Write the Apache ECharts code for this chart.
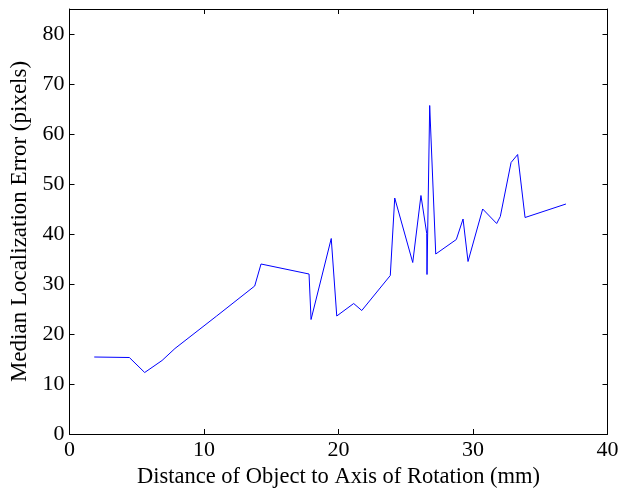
<!DOCTYPE html>
<html>
<head>
<meta charset="utf-8">
<script src="https://cdn.jsdelivr.net/npm/echarts@6/dist/echarts.min.js"></script>
<style>html,body{margin:0;padding:0;background:#fff}#c{width:620px;height:489px}</style>
</head>
<body>
<div id="c"></div>
<script>
const distances = [1.84, 4.45, 5.59, 6.88, 7.84, 10.94, 13.77, 14.24, 17.81, 17.96, 19.46, 19.87, 21.13, 21.73, 23.85, 24.18, 25.52, 26.13, 26.56, 26.58, 26.78, 27.23, 28.76, 29.26, 29.63, 30.72, 31.76, 32.03, 32.83, 33.32, 33.87, 36.91];
const errors = [15.4, 15.3, 12.3, 14.7, 17.1, 23.6, 29.6, 34.0, 32.0, 22.9, 39.1, 23.6, 26.1, 24.7, 31.7, 47.2, 34.3, 47.7, 40.1, 31.9, 65.7, 36.0, 38.9, 43.0, 34.5, 45.0, 42.1, 43.5, 54.3, 55.9, 43.3, 46.0];
const xTitle = 'Distance of Object to Axis of Rotation (mm)';
const yTitle = 'Median Localization Error (pixels)';

const font = 'Liberation Serif';
const chart = echarts.init(document.getElementById('c'), null, {renderer: 'canvas'});
const lineStyle = {color: '#000', width: 1};
chart.setOption({
  animation: false,
  grid: {left: 69.5, right: 12.5, top: 9, bottom: 55, containLabel: false, outerBoundsMode: 'none'},
  xAxis: [{
    type: 'value', min: 0, max: 40, interval: 10, position: 'bottom',
    name: xTitle, nameLocation: 'middle', nameGap: 30,
    nameTextStyle: {fontFamily: font, fontSize: 22.5, color: '#000'},
    axisLine: {show: true, onZero: false, lineStyle},
    axisTick: {show: true, inside: true, length: 5, lineStyle},
    axisLabel: {fontFamily: font, fontSize: 22, color: '#000', margin: 5},
    splitLine: {show: false}
  }, {
    type: 'value', min: 0, max: 40, interval: 10, position: 'top',
    axisLine: {show: true, onZero: false, lineStyle},
    axisTick: {show: true, inside: true, length: 5, lineStyle},
    axisLabel: {show: false}, splitLine: {show: false}
  }],
  yAxis: [{
    type: 'value', min: 0, max: 85, interval: 10, position: 'left',
    name: yTitle, nameLocation: 'middle', nameGap: 33, nameRotate: 90,
    nameTextStyle: {fontFamily: font, fontSize: 23, color: '#000'},
    axisLine: {show: true, onZero: false, lineStyle},
    axisTick: {show: true, inside: true, length: 5, lineStyle},
    axisLabel: {fontFamily: font, fontSize: 22, color: '#000', margin: 5, showMaxLabel: false},
    splitLine: {show: false}
  }, {
    type: 'value', min: 0, max: 85, interval: 10, position: 'right',
    axisLine: {show: true, onZero: false, lineStyle},
    axisTick: {show: true, inside: true, length: 5, lineStyle},
    axisLabel: {show: false}, splitLine: {show: false}
  }],
  series: [{
    type: 'line',
    data: distances.map((d, i) => [d, errors[i]]),
    showSymbol: false,
    lineStyle: {color: '#0000ff', width: 1},
    itemStyle: {color: '#0000ff'}
  }]
});
</script>
</body>
</html>
